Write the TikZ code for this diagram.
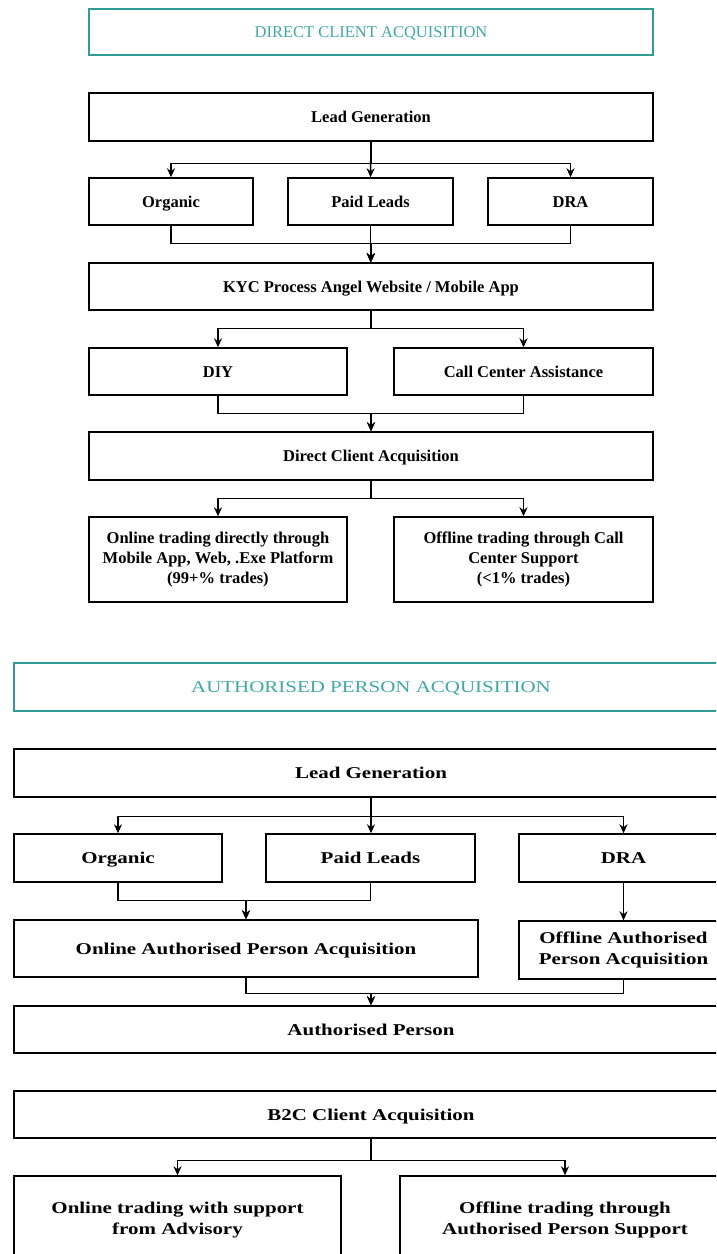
\documentclass[tikz,border=0pt]{standalone}
\usepackage{fontspec}
\setmainfont{Liberation Serif}
\newfontfamily\widefont{Liberation Serif}[FakeStretch=1.27]
\usetikzlibrary{arrows.meta}
\definecolor{tealtext}{RGB}{62,170,166}
\definecolor{tealline}{RGB}{48,156,150}
\begin{document}
\begin{tikzpicture}[
    x=1pt, y=-1pt,
    box/.style={
        rectangle, draw, line width=1.4pt, inner sep=2pt,
        align=center, font=\fontsize{16.5}{20}\selectfont\bfseries
    },
    widebox/.style={
        box, font=\widefont\fontsize{16.5}{20.5}\selectfont\bfseries
    },
    oneline/.style={text height=11pt, text depth=0pt},
    titlebox/.style={
        rectangle, draw=tealline, line width=1.6pt, text=tealtext,
        oneline, align=center, font=\fontsize{16.5}{20}\selectfont
    },
    arrow/.style={-{Stealth[length=9pt,width=8pt]}, line width=1.5pt}
]
\useasboundingbox (0,0) rectangle (716,1254);
\clip (0,0) rectangle (716,1254);

% Part 1: Direct client acquisition
\node[titlebox, minimum width=564, minimum height=46] (title1) at (371,32) {DIRECT CLIENT ACQUISITION};
\node[box, oneline, minimum width=564, minimum height=48] (lead1) at (371,117) {Lead Generation};
\node[box, oneline, minimum width=164, minimum height=47] (organic1) at (171,201.5) {Organic};
\node[box, oneline, minimum width=165, minimum height=47] (paid1) at (370.5,201.5) {Paid Leads};
\node[box, oneline, minimum width=165, minimum height=47] (dra1) at (570.5,201.5) {DRA};
\node[box, oneline, minimum width=564, minimum height=47] (kyc) at (371,286.5) {KYC Process Angel Website / Mobile App};
\node[box, oneline, minimum width=258, minimum height=47] (diy) at (218,371.5) {DIY};
\node[box, oneline, minimum width=259, minimum height=47] (callcenter) at (523.5,371.5) {Call Center Assistance};
\node[box, oneline, minimum width=564, minimum height=48] (direct) at (371,456) {Direct Client Acquisition};
\node[box, minimum width=258, minimum height=85] (online1) at (218,559.5) {Online trading directly through\\Mobile App, Web, .Exe Platform\\(99+\% trades)};
\node[box, minimum width=259, minimum height=85] (offline1) at (523.5,559.5) {Offline trading through Call\\Center Support\\(<1\% trades)};

% Part 2: Authorised person acquisition
\node[titlebox, font=\widefont\fontsize{16.5}{20}\selectfont, minimum width=714, minimum height=48] (title2) at (371,687) {AUTHORISED PERSON ACQUISITION};
\node[widebox, oneline, minimum width=714, minimum height=48] (lead2) at (371,773) {Lead Generation};
\node[widebox, oneline, minimum width=208, minimum height=48] (organic2) at (118,858) {Organic};
\node[widebox, oneline, minimum width=209, minimum height=48] (paid2) at (370.5,858) {Paid Leads};
\node[widebox, oneline, minimum width=209, minimum height=48] (dra2) at (623.5,858) {DRA};
\node[widebox, oneline, minimum width=464, minimum height=57] (onlineap) at (246,948.5) {Online Authorised Person Acquisition};
\node[widebox, minimum width=209, minimum height=58] (offlineap) at (623.5,950) {Offline Authorised\\Person Acquisition};
\node[widebox, oneline, minimum width=714, minimum height=47] (authperson) at (371,1029.5) {Authorised Person};

% Part 3: B2C client acquisition
\node[widebox, oneline, minimum width=714, minimum height=47] (b2c) at (371,1114.5) {B2C Client Acquisition};
\node[widebox, minimum width=327, minimum height=88] (online2) at (177.5,1220) {Online trading with support\\from Advisory};
\node[widebox, minimum width=330, minimum height=88] (offline2) at (565,1220) {Offline trading through\\Authorised Person Support};

% Arrows, part 1
\draw[arrow] (lead1.south) -- ++(0,22) -| (organic1.north);
\draw[arrow] (lead1.south) -- (paid1.north);
\draw[arrow] (lead1.south) -- ++(0,22) -| (dra1.north);
\draw[arrow] (organic1.south) -- ++(0,18) -| (kyc.north);
\draw[arrow] (paid1.south) -- (paid1.south |- kyc.north);
\draw[arrow] (dra1.south) -- ++(0,18) -| (kyc.north);
\draw[arrow] (kyc.south) -- ++(0,18) -| (diy.north);
\draw[arrow] (kyc.south) -- ++(0,18) -| (callcenter.north);
\draw[arrow] (diy.south) -- ++(0,18) -| (direct.north);
\draw[arrow] (callcenter.south) -- ++(0,18) -| (direct.north);
\draw[arrow] (direct.south) -- ++(0,18) -| (online1.north);
\draw[arrow] (direct.south) -- ++(0,18) -| (offline1.north);

% Arrows, part 2
\draw[arrow] (lead2.south) -- ++(0,19) -| (organic2.north);
\draw[arrow] (lead2.south) -- (lead2.south |- paid2.north);
\draw[arrow] (lead2.south) -- ++(0,19) -| (dra2.north);
\draw[arrow] (organic2.south) -- ++(0,18) -| (onlineap.north);
\draw[arrow] (paid2.south) -- ++(0,18) -| (onlineap.north);
\draw[arrow] (dra2.south) -- (offlineap.north);
\draw[arrow] (onlineap.south) -- ++(0,16) -| (authperson.north);
\draw[arrow] (offlineap.south) -- ++(0,14) -| (authperson.north);

% Arrows, part 3
\draw[arrow] (b2c.south) -- ++(0,22) -| (online2.north);
\draw[arrow] (b2c.south) -- ++(0,22) -| (offline2.north);

\end{tikzpicture}
\end{document}
